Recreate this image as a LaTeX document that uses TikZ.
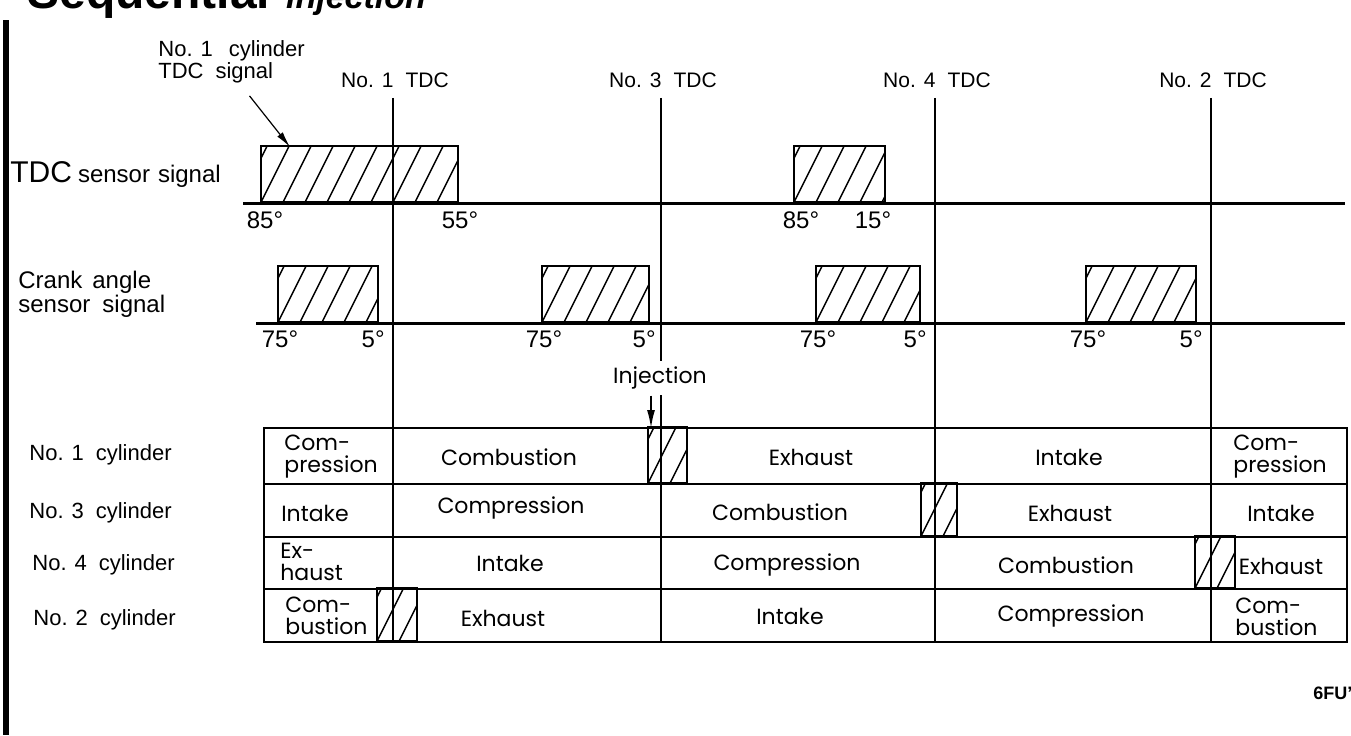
\documentclass[tikz,border=0pt]{standalone}
\usepackage{fontspec}
\setmainfont{Liberation Sans}
\newfontfamily\chartfont{Poppins}
\usepackage{tikz}
\usetikzlibrary{arrows.meta}

\tikzset{
  pulse/.style={draw, line width=1.2pt, inner sep=0pt, anchor=south west,
    path picture={
      \foreach \k in {-1,...,9}
        \draw[line width=0.7pt] ([xshift=\k*11pt]path picture bounding box.south west) -- ++(20pt,40pt);
    }},
  tdcmark/.style={font=\fontsize{10.5}{12}\selectfont, inner sep=1pt},
  deg/.style={font=\fontsize{12}{12}\selectfont, inner sep=0pt, anchor=north},
  sidelabel/.style={font=\fontsize{11}{13}\selectfont, inner sep=0pt, anchor=west},
  cell/.style={font=\chartfont\fontsize{11}{11}\selectfont, inner sep=0pt},
  twoline/.style={cell, align=left, anchor=west},
  thickline/.style={line width=1.3pt},
}

\begin{document}
\begin{tikzpicture}[x=0.5pt,y=-0.5pt]
  \useasboundingbox (0,0) rectangle (1351,735);

  % title, cut off at the top
  \node[anchor=base west, inner sep=0pt, font=\bfseries\fontsize{24}{24}\selectfont] (title) at (27,8)
    {Sequential\hspace{8pt}{\itshape\fontsize{17}{17}\selectfont injection}};
  \fill (3,20) rectangle (9,735);

  % TDC marks
  \foreach \x/\n in {393/1,661/3,935/4,1211/2}{
    \node[tdcmark] (tdc\n) at (\x+2,80) {No.\hspace{4pt}\n\hspace{6pt}TDC};
    \coordinate (foot\n) at (\x,642);
    \draw[line width=0.7pt, shorten <=4pt] (foot\n |- tdc\n.south) -- (foot\n);
  }

  % No.1 cylinder TDC signal
  \node[sidelabel, align=left, font=\fontsize{11}{9.5}\selectfont] (note) at (158,62)
    {No.\hspace{4pt}1\hspace{8pt}cylinder\\TDC\hspace{6pt}signal};
  \coordinate (notetip) at (290,147);
  \draw[-{Latex[length=8pt,width=3.5pt]}, line width=0.6pt] ([xshift=9pt,yshift=-6pt]note.south) -- (notetip);

  % TDC sensor signal
  \node[anchor=west, inner sep=0pt] (tdcsig) at (10,175)
    {\fontsize{15}{15}\selectfont TDC\hspace{3pt}\fontsize{12}{13}\selectfont sensor\hspace{4pt}signal};
  \node[pulse, minimum width=98.5pt, minimum height=28pt] (tdcpa) at (260,203) {};
  \node[pulse, minimum width=45.5pt, minimum height=28pt] (tdcpb) at (793,203) {};
  \draw[line width=1.5pt] (243,203) -- (1345,203);
  \node[deg] (tdca) at (265,211) {85°};
  \node[deg] (tdcb) at (460,211) {55°};
  \node[deg] (tdcc) at (801,211) {85°};
  \node[deg] (tdcd) at (873,211) {15°};

  % crank angle sensor signal
  \node[anchor=west, align=left, font=\fontsize{12}{11}\selectfont, inner sep=0pt] (cranksig) at (18,294)
    {Crank\hspace{5pt}angle\\sensor\hspace{6pt}signal};
  \foreach \a/\b [count=\i] in {277/377,541/648,815/919,1085/1195}{
    \node[pulse, minimum width={(\b-\a)*0.5pt}, minimum height=28pt] (crank\i) at (\a,323) {};
    \node[deg] (crs\i) at (\a+3,330) {75°};
    \node[deg, anchor=north east] (cre\i) at (\b+8,330) {5°};
  }
  \draw[line width=1.5pt] (256,323) -- (1345,323);

  % injection
  \node[cell, fill=white, inner ysep=3pt, inner xsep=1pt] (inj) at (660,378) {Injection};
  \coordinate (injtip) at (651,428);
  \draw[-{Latex[length=9pt,width=4pt]}, line width=0.8pt] (inj.south -| injtip) -- (injtip);

  % cylinder table
  \draw[thickline] (264,428) rectangle (1347,642);
  \foreach \y in {484,537,589} \draw[thickline] (264,\y) -- (1347,\y);
  \node[pulse, minimum width=19.5pt, minimum height=28pt] (hatch1) at (647,484) {};
  \node[pulse, minimum width=18pt, minimum height=26.5pt] (hatch3) at (920,537) {};
  \node[pulse, minimum width=20pt, minimum height=26pt] (hatch4) at (1194,589) {};
  \node[pulse, minimum width=20pt, minimum height=26.5pt] (hatch2) at (376,642) {};

  \node[sidelabel] (cyl1) at (29,455) {No.\hspace{4pt}1\hspace{6pt}cylinder};
  \node[sidelabel] (cyl3) at (29,513) {No.\hspace{4pt}3\hspace{6pt}cylinder};
  \node[sidelabel] (cyl4) at (32,565) {No.\hspace{4pt}4\hspace{6pt}cylinder};
  \node[sidelabel] (cyl2) at (33,620) {No.\hspace{4pt}2\hspace{6pt}cylinder};

  % No.1 cylinder
  \node[twoline] (c11) at (284,457) {Com-\\pression};
  \node[cell] (c12) at (509,457) {Combustion};
  \node[cell] (c13) at (811,457) {Exhaust};
  \node[cell] (c14) at (1069,457) {Intake};
  \node[twoline] (c15) at (1233,457) {Com-\\pression};
  % No.3 cylinder
  \node[cell] (c31) at (315,513) {Intake};
  \node[cell] (c32) at (511,508) {Compression};
  \node[cell] (c33) at (780,512) {Combustion};
  \node[cell] (c34) at (1070,513) {Exhaust};
  \node[cell] (c35) at (1281,513) {Intake};
  % No.4 cylinder
  \node[twoline] (c41) at (280,562) {Ex-\\haust};
  \node[cell] (c42) at (510,563) {Intake};
  \node[cell] (c43) at (787,565) {Compression};
  \node[cell] (c44) at (1066,565) {Combustion};
  \node[cell] (c45) at (1281,566) {Exhaust};
  % No.2 cylinder
  \node[twoline] (c21) at (285,616) {Com-\\bustion};
  \node[cell] (c22) at (503,618) {Exhaust};
  \node[cell] (c23) at (790,616) {Intake};
  \node[cell] (c24) at (1071,616) {Compression};
  \node[twoline] (c25) at (1235,617) {Com-\\bustion};

  \node[anchor=west, inner sep=0pt, font=\bfseries\fontsize{9}{9}\selectfont] (code) at (1313,693) {6FU'};
\end{tikzpicture}
\end{document}
